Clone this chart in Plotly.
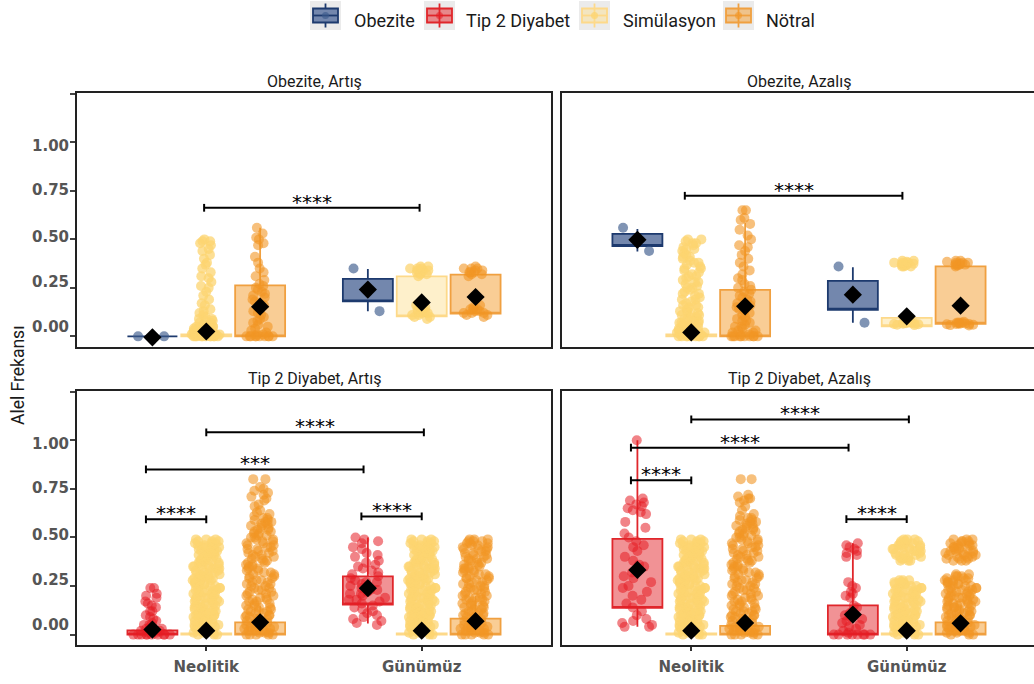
import plotly.graph_objects as go

FIG_W, FIG_H = 1034, 684


def fx(px):
    return px / FIG_W


def fy(py):
    return 1 - py / FIG_H


CATEGORIES = ["Neolitik", "Günümüz"]
PANEL_TITLES = ["Obezite, Artış", "Obezite, Azalış", "Tip 2 Diyabet, Artış", "Tip 2 Diyabet, Azalış"]
PANEL_TRAIT = ["Obezite", "Obezite", "Tip 2 Diyabet", "Tip 2 Diyabet"]
GROUP_NAMES = ["trait", "Simülasyon", "Nötral"]
GROUP_OFFSETS = [-0.25, 0.0, 0.25]
BOX_WIDTH = 0.232

# ---- box statistics: rows = (trait, Simülasyon, Nötral), cols = (Neolitik, Günümüz)
STATS_OA = dict(  # Obezite, Artış
    lower=[[0.0, 0.129], [0.0, 0.103], [0.0, 0.117]],
    q1=[[0.0, 0.18], [0.0, 0.103], [0.0, 0.117]],
    q3=[[0.0, 0.296], [0.01, 0.309], [0.263, 0.318]],
    upper=[[0.0, 0.347], [0.01, 0.309], [0.56, 0.318]],
    mean=[[-0.005, 0.241], [0.025, 0.175], [0.153, 0.203]],
)
STATS_OZ = dict(  # Obezite, Azalış
    lower=[[0.438, 0.07], [0.0, 0.052], [0.0, 0.065]],
    q1=[[0.466, 0.137], [0.0, 0.052], [0.0, 0.065]],
    q3=[[0.528, 0.286], [0.01, 0.095], [0.24, 0.361]],
    upper=[[0.553, 0.356], [0.01, 0.095], [0.585, 0.361]],
    mean=[[0.498, 0.215], [0.02, 0.103], [0.155, 0.158]],
)
STATS_TA = dict(  # Tip 2 Diyabet, Artış
    lower=[[0.0, 0.057], [0.0, 0.0], [0.0, 0.0]],
    q1=[[0.0, 0.155], [0.0, 0.0], [0.0, 0.0]],
    q3=[[0.022, 0.30], [0.006, 0.006], [0.063, 0.082]],
    upper=[[0.05, 0.50], [0.006, 0.006], [0.15, 0.2]],
    mean=[[0.026, 0.239], [0.02, 0.02], [0.063, 0.069]],
)
STATS_TZ = dict(  # Tip 2 Diyabet, Azalış
    lower=[[0.04, 0.0], [0.0, 0.0], [0.0, 0.0]],
    q1=[[0.138, 0.0], [0.0, 0.0], [0.0, 0.0]],
    q3=[[0.493, 0.15], [0.006, 0.006], [0.045, 0.063]],
    upper=[[1.0, 0.47], [0.006, 0.006], [0.1, 0.15]],
    mean=[[0.333, 0.103], [0.02, 0.02], [0.06, 0.058]],
)

# ---- individual (jittered) points
OA_TRAIT_NEO = [0.0, 0.0]
OA_TRAIT_GUN = [0.35, 0.13]
OA_SIM_NEO = [0.50, 0.49, 0.49, 0.48, 0.47, 0.45, 0.44, 0.42, 0.40, 0.38, 0.37, 0.35, 0.33, 0.31,
              0.30, 0.28, 0.26, 0.25, 0.23, 0.21, 0.19, 0.17, 0.16, 0.14, 0.13, 0.12, 0.11, 0.10,
              0.09, 0.09, 0.08, 0.08, 0.07, 0.07, 0.06, 0.06, 0.05, 0.05, 0.05, 0.04, 0.04, 0.04,
              0.03, 0.03, 0.03, 0.03, 0.02, 0.02, 0.02, 0.02, 0.01, 0.01, 0.01, 0.01, 0.01, 0.00,
              0.00, 0.00, 0.00, 0.00, 0.00, 0.00, 0.00, 0.00, 0.00, 0.00, 0.01, 0.02, 0.03]
OA_SIM_GUN = [0.36, 0.36, 0.35, 0.35, 0.34, 0.34, 0.34, 0.33, 0.33, 0.32, 0.32, 0.31, 0.35, 0.33,
              0.16, 0.15, 0.15, 0.14, 0.13, 0.13, 0.12, 0.12, 0.11, 0.10, 0.10, 0.09, 0.14, 0.11]
OA_NOT_NEO = [0.56, 0.53, 0.51, 0.50, 0.48, 0.47, 0.41, 0.38, 0.35, 0.33, 0.31, 0.29, 0.27, 0.26,
              0.25, 0.24, 0.23, 0.22, 0.21, 0.20, 0.19, 0.18, 0.17, 0.16, 0.15, 0.14, 0.13, 0.12,
              0.11, 0.10, 0.09, 0.08, 0.07, 0.06, 0.05, 0.04, 0.03, 0.02, 0.01, 0.01, 0.00, 0.00,
              0.00, 0.00, 0.00, 0.00, 0.00, 0.00, 0.00, 0.00]
OA_NOT_GUN = [0.36, 0.35, 0.35, 0.34, 0.34, 0.33, 0.33, 0.32, 0.32, 0.31, 0.35, 0.33,
              0.16, 0.15, 0.14, 0.14, 0.13, 0.13, 0.12, 0.12, 0.11, 0.11, 0.10, 0.14, 0.12]

OZ_TRAIT_NEO = [0.56, 0.44]
OZ_TRAIT_GUN = [0.36, 0.07]
OZ_SIM_NEO = [0.50, 0.50, 0.49, 0.48, 0.47, 0.46, 0.45, 0.44, 0.43, 0.42, 0.41, 0.40, 0.39, 0.38,
              0.37, 0.36, 0.35, 0.34, 0.33, 0.32, 0.31, 0.30, 0.29, 0.28, 0.27, 0.26, 0.25, 0.24,
              0.23, 0.22, 0.21, 0.20, 0.19, 0.18, 0.17, 0.16, 0.15, 0.15, 0.14, 0.13, 0.12, 0.12,
              0.11, 0.10, 0.10, 0.09, 0.08, 0.08, 0.07, 0.07, 0.06, 0.06, 0.05, 0.05, 0.04, 0.04,
              0.03, 0.03, 0.03, 0.02, 0.02, 0.02, 0.01, 0.01, 0.01, 0.00, 0.00, 0.00, 0.00, 0.00,
              0.00, 0.00, 0.48, 0.45, 0.41, 0.38, 0.35, 0.31, 0.28, 0.25, 0.22, 0.19, 0.16, 0.13,
              0.11, 0.09, 0.07, 0.05, 0.04, 0.03, 0.02, 0.01, 0.00, 0.00]
OZ_SIM_GUN = [0.39, 0.39, 0.38, 0.38, 0.38, 0.37, 0.37, 0.37, 0.36, 0.36, 0.36, 0.385, 0.375, 0.365,
              0.077, 0.075, 0.072, 0.07, 0.068, 0.066, 0.064, 0.062, 0.06, 0.058, 0.071, 0.065, 0.074]
OZ_NOT_NEO = [0.65, 0.65, 0.61, 0.60, 0.58, 0.55, 0.52, 0.50, 0.47, 0.46, 0.44, 0.42, 0.40, 0.38,
              0.36, 0.34, 0.32, 0.30, 0.29, 0.27, 0.26, 0.25, 0.24, 0.23, 0.22, 0.21, 0.20, 0.19,
              0.18, 0.17, 0.16, 0.15, 0.14, 0.13, 0.12, 0.11, 0.10, 0.09, 0.08, 0.07, 0.06, 0.05,
              0.04, 0.03, 0.02, 0.01, 0.00, 0.00, 0.00, 0.00, 0.00, 0.00, 0.00, 0.00, 0.00, 0.00,
              0.01, 0.02, 0.03, 0.05, 0.08]
OZ_NOT_GUN = [0.39, 0.39, 0.38, 0.38, 0.38, 0.37, 0.37, 0.37, 0.37, 0.36, 0.385, 0.375, 0.365,
              0.075, 0.072, 0.07, 0.068, 0.066, 0.065, 0.064, 0.062, 0.06, 0.058, 0.056, 0.07, 0.063]

TA_TRAIT_NEO = [0.24, 0.24, 0.21, 0.20, 0.19, 0.17, 0.16, 0.15, 0.14, 0.12, 0.12, 0.10, 0.09, 0.08,
                0.07, 0.06, 0.05, 0.05, 0.04, 0.03, 0.03, 0.02, 0.02, 0.01, 0.01, 0.00, 0.00, 0.00,
                0.00, 0.00, 0.00, 0.00, 0.00, 0.00, 0.00]
TA_TRAIT_GUN = [0.50, 0.49, 0.48, 0.47, 0.45, 0.44, 0.42, 0.41, 0.40, 0.38, 0.37, 0.36, 0.35, 0.34,
                0.33, 0.32, 0.31, 0.30, 0.29, 0.28, 0.27, 0.27, 0.26, 0.25, 0.25, 0.24, 0.23, 0.23,
                0.22, 0.21, 0.21, 0.20, 0.19, 0.18, 0.18, 0.17, 0.16, 0.15, 0.14, 0.13, 0.12, 0.11,
                0.10, 0.09, 0.08, 0.07, 0.06, 0.05]
SIM_COLUMN = [
    0.00, 0.00, 0.00, 0.01, 0.01, 0.01, 0.02, 0.02, 0.02, 0.03, 0.03, 0.03, 0.04, 0.04, 0.04,
    0.05, 0.05, 0.05, 0.06, 0.06, 0.06, 0.07, 0.07, 0.07, 0.08, 0.08, 0.08, 0.09, 0.09, 0.09,
    0.10, 0.10, 0.10, 0.11, 0.11, 0.11, 0.12, 0.12, 0.12, 0.13, 0.13, 0.13, 0.14, 0.14, 0.14,
    0.15, 0.15, 0.15, 0.16, 0.16, 0.16, 0.17, 0.17, 0.17, 0.18, 0.18, 0.18, 0.19, 0.19, 0.19,
    0.20, 0.20, 0.20, 0.21, 0.21, 0.21, 0.22, 0.22, 0.22, 0.23, 0.23, 0.23, 0.24, 0.24, 0.24,
    0.25, 0.25, 0.25, 0.26, 0.26, 0.26, 0.27, 0.27, 0.27, 0.28, 0.28, 0.28, 0.29, 0.29, 0.29,
    0.30, 0.30, 0.30, 0.31, 0.31, 0.31, 0.32, 0.32, 0.32, 0.33, 0.33, 0.33, 0.34, 0.34, 0.34,
    0.35, 0.35, 0.35, 0.36, 0.36, 0.36, 0.37, 0.37, 0.37, 0.38, 0.38, 0.38, 0.39, 0.39, 0.39,
    0.40, 0.40, 0.40, 0.41, 0.41, 0.41, 0.42, 0.42, 0.42, 0.43, 0.43, 0.43, 0.44, 0.44, 0.44,
    0.45, 0.45, 0.45, 0.46, 0.46, 0.46, 0.47, 0.47, 0.47, 0.48, 0.48, 0.48, 0.49, 0.49, 0.49]
TA_NOT_NEO = [
    0.80, 0.80, 0.76, 0.75, 0.74, 0.73, 0.72, 0.71, 0.70, 0.69, 0.67, 0.66, 0.64, 0.63, 0.62,
    0.61, 0.60, 0.60, 0.59, 0.59, 0.58, 0.58, 0.57, 0.57, 0.56, 0.56, 0.55, 0.55, 0.54, 0.54,
    0.53, 0.53, 0.52, 0.52, 0.51, 0.51, 0.50, 0.50, 0.49, 0.49, 0.48, 0.48, 0.47, 0.47, 0.46,
    0.46, 0.45, 0.45, 0.44, 0.44, 0.43, 0.43, 0.42, 0.42, 0.41, 0.41, 0.40, 0.40, 0.39, 0.39,
    0.38, 0.38, 0.37, 0.37, 0.36, 0.36, 0.35, 0.35, 0.34, 0.34, 0.33, 0.33, 0.32, 0.32, 0.31,
    0.31, 0.30, 0.30, 0.29, 0.29, 0.28, 0.28, 0.27, 0.27, 0.26, 0.26, 0.25, 0.25, 0.24, 0.24,
    0.23, 0.23, 0.22, 0.22, 0.21, 0.21, 0.20, 0.20, 0.19, 0.19, 0.18, 0.18, 0.17, 0.17, 0.16,
    0.16, 0.15, 0.15, 0.14, 0.14, 0.13, 0.13, 0.12, 0.12, 0.11, 0.11, 0.10, 0.10, 0.09, 0.09,
    0.08, 0.08, 0.07, 0.07, 0.06, 0.06, 0.05, 0.05, 0.04, 0.04, 0.03, 0.03, 0.02, 0.02, 0.01,
    0.01, 0.00, 0.00, 0.00, 0.00, 0.00, 0.01, 0.02, 0.03, 0.04, 0.05, 0.06, 0.08, 0.10, 0.12]
TA_NOT_GUN = [
    0.49, 0.49, 0.49, 0.48, 0.48, 0.47, 0.47, 0.46, 0.46, 0.45, 0.45, 0.44, 0.44, 0.43, 0.43,
    0.42, 0.42, 0.41, 0.41, 0.40, 0.40, 0.39, 0.39, 0.38, 0.38, 0.37, 0.37, 0.36, 0.36, 0.35,
    0.35, 0.34, 0.34, 0.33, 0.33, 0.32, 0.32, 0.31, 0.31, 0.30, 0.30, 0.29, 0.29, 0.28, 0.28,
    0.27, 0.27, 0.26, 0.26, 0.25, 0.25, 0.24, 0.24, 0.23, 0.23, 0.22, 0.22, 0.21, 0.21, 0.20,
    0.20, 0.19, 0.19, 0.18, 0.18, 0.17, 0.17, 0.16, 0.16, 0.15, 0.15, 0.14, 0.14, 0.13, 0.13,
    0.12, 0.12, 0.11, 0.11, 0.10, 0.10, 0.09, 0.09, 0.08, 0.08, 0.07, 0.07, 0.06, 0.06, 0.05,
    0.05, 0.04, 0.04, 0.03, 0.03, 0.02, 0.02, 0.01, 0.01, 0.00, 0.00, 0.00, 0.00, 0.00, 0.01,
    0.02, 0.03, 0.04, 0.06, 0.08, 0.11, 0.15, 0.19, 0.24, 0.29, 0.34, 0.39, 0.44, 0.47, 0.48]

TZ_TRAIT_NEO = [1.00, 0.70, 0.69, 0.68, 0.67, 0.66, 0.65, 0.64, 0.63, 0.62, 0.58, 0.55, 0.52, 0.50,
                0.48, 0.46, 0.45, 0.43, 0.40, 0.38, 0.36, 0.35, 0.33, 0.32, 0.30, 0.29, 0.27, 0.25,
                0.24, 0.22, 0.20, 0.18, 0.16, 0.14, 0.12, 0.10, 0.08, 0.07, 0.06, 0.05, 0.04, 0.04]
TZ_TRAIT_GUN = [0.47, 0.46, 0.45, 0.44, 0.43, 0.42, 0.41, 0.40, 0.27, 0.25, 0.24, 0.22, 0.21, 0.20,
                0.19, 0.15, 0.14, 0.12, 0.11, 0.10, 0.09, 0.08, 0.07, 0.06, 0.05, 0.04, 0.03, 0.02,
                0.01, 0.00, 0.00, 0.00, 0.00, 0.00, 0.00, 0.00, 0.00]
TZ_SIM_GUN = [
    0.49, 0.49, 0.49, 0.48, 0.48, 0.48, 0.47, 0.47, 0.47, 0.46, 0.46, 0.46, 0.45, 0.45, 0.45,
    0.44, 0.44, 0.44, 0.43, 0.43, 0.43, 0.42, 0.42, 0.42, 0.41, 0.41, 0.41, 0.40, 0.40, 0.40,
    0.39, 0.39, 0.39, 0.38, 0.38, 0.38,
    0.28, 0.28, 0.28, 0.27, 0.27, 0.27, 0.26, 0.26, 0.26, 0.25, 0.25, 0.25, 0.24, 0.24, 0.24,
    0.23, 0.23, 0.23, 0.22, 0.22, 0.22, 0.21, 0.21, 0.21, 0.20, 0.20, 0.20, 0.19, 0.19, 0.19,
    0.18, 0.18, 0.18, 0.17, 0.17, 0.17, 0.16, 0.16, 0.16, 0.15, 0.15, 0.15, 0.14, 0.14, 0.14,
    0.13, 0.13, 0.13, 0.12, 0.12, 0.12, 0.11, 0.11, 0.11, 0.10, 0.10, 0.10, 0.09, 0.09, 0.09,
    0.08, 0.08, 0.08, 0.07, 0.07, 0.07, 0.06, 0.06, 0.06, 0.05, 0.05, 0.05, 0.04, 0.04, 0.04,
    0.03, 0.03, 0.03, 0.02, 0.02, 0.02, 0.01, 0.01, 0.01, 0.00, 0.00, 0.00]
TZ_NOT_NEO = [
    0.80, 0.80, 0.72, 0.71, 0.70, 0.70, 0.69, 0.68, 0.66, 0.64, 0.62, 0.61,
    0.60, 0.60, 0.59, 0.59, 0.58, 0.58, 0.57, 0.57, 0.56, 0.56, 0.55, 0.55, 0.54, 0.54,
    0.53, 0.53, 0.52, 0.52, 0.51, 0.51, 0.50, 0.50, 0.49, 0.49, 0.48, 0.48, 0.47, 0.47, 0.46,
    0.46, 0.45, 0.45, 0.44, 0.44, 0.43, 0.43, 0.42, 0.42, 0.41, 0.41, 0.40, 0.40, 0.39, 0.39,
    0.38, 0.38, 0.37, 0.37, 0.36, 0.36, 0.35, 0.35, 0.34, 0.34, 0.33, 0.33, 0.32, 0.32, 0.31,
    0.31, 0.30, 0.30, 0.29, 0.29, 0.28, 0.28, 0.27, 0.27, 0.26, 0.26, 0.25, 0.25, 0.24, 0.24,
    0.23, 0.23, 0.22, 0.22, 0.21, 0.21, 0.20, 0.20, 0.19, 0.19, 0.18, 0.18, 0.17, 0.17, 0.16,
    0.16, 0.15, 0.15, 0.14, 0.14, 0.13, 0.13, 0.12, 0.12, 0.11, 0.11, 0.10, 0.10, 0.09, 0.09,
    0.08, 0.08, 0.07, 0.07, 0.06, 0.06, 0.05, 0.05, 0.04, 0.04, 0.03, 0.03, 0.02, 0.02, 0.01,
    0.01, 0.00, 0.00, 0.00, 0.00, 0.00, 0.01, 0.02, 0.03, 0.04, 0.05, 0.06, 0.08, 0.10, 0.12]
TZ_NOT_GUN = [
    0.49, 0.49, 0.49, 0.48, 0.48, 0.48, 0.47, 0.47, 0.47, 0.46, 0.46, 0.46, 0.45, 0.45, 0.45,
    0.44, 0.44, 0.44, 0.43, 0.43, 0.43, 0.42, 0.42, 0.42, 0.41, 0.41, 0.41, 0.40, 0.40, 0.40,
    0.39, 0.39, 0.39, 0.38, 0.38, 0.38,
    0.31, 0.31, 0.30, 0.30, 0.30, 0.29, 0.29, 0.29, 0.28, 0.28, 0.28, 0.27, 0.27, 0.27, 0.26,
    0.26, 0.26, 0.25, 0.25, 0.25, 0.24, 0.24, 0.24, 0.23, 0.23, 0.23, 0.22, 0.22, 0.22, 0.21,
    0.21, 0.21, 0.20, 0.20, 0.20, 0.19, 0.19, 0.19, 0.18, 0.18, 0.18, 0.17, 0.17, 0.17, 0.16,
    0.16, 0.16, 0.15, 0.15, 0.15, 0.14, 0.14, 0.14, 0.13, 0.13, 0.13, 0.12, 0.12, 0.12, 0.11,
    0.11, 0.11, 0.10, 0.10, 0.10, 0.09, 0.09, 0.09, 0.08, 0.08, 0.08, 0.07, 0.07, 0.07, 0.06,
    0.06, 0.06, 0.05, 0.05, 0.05, 0.04, 0.04, 0.04, 0.03, 0.03, 0.03, 0.02, 0.02, 0.02, 0.01,
    0.01, 0.01, 0.00, 0.00, 0.00]

PANEL_STATS = [STATS_OA, STATS_OZ, STATS_TA, STATS_TZ]
PANEL_POINTS = [
    [[OA_TRAIT_NEO, OA_TRAIT_GUN], [OA_SIM_NEO, OA_SIM_GUN], [OA_NOT_NEO, OA_NOT_GUN]],
    [[OZ_TRAIT_NEO, OZ_TRAIT_GUN], [OZ_SIM_NEO, OZ_SIM_GUN], [OZ_NOT_NEO, OZ_NOT_GUN]],
    [[TA_TRAIT_NEO, TA_TRAIT_GUN], [SIM_COLUMN, SIM_COLUMN], [TA_NOT_NEO, TA_NOT_GUN]],
    [[TZ_TRAIT_NEO, TZ_TRAIT_GUN], [SIM_COLUMN, TZ_SIM_GUN], [TZ_NOT_NEO, TZ_NOT_GUN]],
]

# significance brackets: (panel, x_from, x_to, y, label)
BRACKETS = [
    (0, 0.99, 1.99, 0.663, "****"),
    (1, 0.97, 1.98, 0.725, "****"),
    (2, 1.00, 2.01, 1.041, "****"),
    (2, 0.72, 1.73, 0.85, "***"),
    (2, 0.72, 1.00, 0.593, "****"),
    (2, 1.72, 2.00, 0.608, "****"),
    (3, 1.00, 2.01, 1.107, "****"),
    (3, 0.72, 1.73, 0.962, "****"),
    (3, 0.72, 1.00, 0.794, "****"),
    (3, 1.72, 2.00, 0.594, "****"),
]

YTICK_VALUES = [0.0, 0.25, 0.5, 0.75, 1.0, 1.25]
YTICK_TEXT = ["0.00", "0.25", "0.50", "0.75", "1.00"]
YLABEL_POS = [0.05, 0.281, 0.513, 0.753, 0.98]  # labels sit slightly off their ticks in the reference

COLORS = {
    "Obezite": dict(line="#1d3a6e", fill="#7387ad", point="rgba(60,90,140,0.65)", jitter=0.9),
    "Tip 2 Diyabet": dict(line="#e0262b", fill="rgba(228,38,43,0.5)", point="rgba(230,30,36,0.55)", jitter=0.9),
    "Simülasyon": dict(line="#fdd98a", fill="rgba(253,222,140,0.45)", point="rgba(252,212,112,0.75)", jitter=0.6),
    "Nötral": dict(line="#f0a040", fill="rgba(243,156,44,0.5)", point="rgba(242,150,36,0.6)", jitter=0.65),
}
LEGEND_ORDER = ["Obezite", "Tip 2 Diyabet", "Simülasyon", "Nötral"]

# ---- layout geometry (pixels)
PANEL_X = [(77, 551), (562, 1036), (77, 551), (562, 1036)]
PANEL_Y = [(93, 347), (93, 347), (390.7, 645.3), (390.7, 645.3)]
PX_PER_UNIT = 215.45
Y_RANGE = [-0.055, 1.255]
LEGEND_KEY_LEFT = [310, 424, 579, 723]
LEGEND_TEXT_LEFT = [352, 464, 621, 764]
LEGEND_KEY_W, LEGEND_KEY_TOP, LEGEND_KEY_BOTTOM = 31, 1, 30
LEGEND_TEXT_Y = 21

fig = go.Figure()

for p in range(4):
    ax = "" if p == 0 else str(p + 1)
    xref, yref = "x" + ax, "y" + ax
    stats = PANEL_STATS[p]
    for g in range(3):
        name = PANEL_TRAIT[p] if g == 0 else GROUP_NAMES[g]
        col = COLORS[name]
        for c in range(2):
            pos = c + 1 + GROUP_OFFSETS[g]
            fig.add_trace(go.Box(
                x=[pos], q1=[stats["q1"][g][c]], median=[stats["q1"][g][c]],
                q3=[stats["q3"][g][c]], lowerfence=[stats["lower"][g][c]],
                upperfence=[stats["upper"][g][c]], whiskerwidth=0,
                width=BOX_WIDTH, fillcolor=col["fill"], line=dict(color=col["line"], width=1.8),
                boxpoints=False, name=name, showlegend=False,
                xaxis=xref, yaxis=yref, hoverinfo="skip"))
    for g in range(3):
        name = PANEL_TRAIT[p] if g == 0 else GROUP_NAMES[g]
        col = COLORS[name]
        for c in range(2):
            pos = c + 1 + GROUP_OFFSETS[g]
            vals = PANEL_POINTS[p][g][c]
            fig.add_trace(go.Box(
                x=[pos] * len(vals), y=vals, boxpoints="all", jitter=col["jitter"], pointpos=0,
                width=BOX_WIDTH, fillcolor="rgba(0,0,0,0)", whiskerwidth=0,
                line=dict(color="rgba(0,0,0,0)", width=0),
                marker=dict(color=col["point"], size=10), name=name,
                showlegend=False, xaxis=xref, yaxis=yref, hoverinfo="skip"))
    mx, my = [], []
    for g in range(3):
        for c in range(2):
            mx.append(c + 1 + GROUP_OFFSETS[g])
            my.append(stats["mean"][g][c])
    fig.add_trace(go.Scatter(x=mx, y=my, mode="markers",
                             marker=dict(symbol="diamond", size=14, color="black"),
                             showlegend=False, xaxis=xref, yaxis=yref, hoverinfo="skip"))

layout = dict(
    template="none",
    width=FIG_W, height=FIG_H, margin=dict(l=0, r=0, t=0, b=0, pad=0, autoexpand=False),
    paper_bgcolor="white", plot_bgcolor="white",
    font=dict(family="Roboto, Arial, sans-serif", color="#1a1a1a"),
    showlegend=False, boxmode="overlay",
)

annotations = []
shapes = []
for p in range(4):
    ax = "" if p == 0 else str(p + 1)
    x0, x1 = PANEL_X[p]
    y0, y1 = PANEL_Y[p]
    right_px = min(x1, FIG_W)
    width_units = (right_px - x0) / PX_PER_UNIT
    is_bottom = p >= 2
    is_left = p % 2 == 0
    layout["xaxis" + ax] = dict(
        domain=[fx(x0), fx(right_px)], anchor="y" + ax, range=[0.4, 0.4 + width_units],
        automargin=False, showgrid=False, zeroline=False, showline=True, mirror=True,
        linecolor="#222", linewidth=2, tickmode="array", tickvals=[1, 2],
        ticktext=CATEGORIES if is_bottom else ["", ""],
        showticklabels=is_bottom, ticks="outside" if is_bottom else "",
        ticklen=4, tickcolor="#333", tickwidth=1.5, ticklabelstandoff=3,
        tickfont=dict(family="DejaVu Sans", size=15, color="#555555", weight="bold"),
    )
    layout["yaxis" + ax] = dict(
        domain=[fy(y1), fy(y0)], anchor="x" + ax, range=Y_RANGE, automargin=False,
        showgrid=False, zeroline=False, showline=True, mirror=True, linecolor="#222",
        linewidth=2, tickmode="array", tickvals=YTICK_VALUES, showticklabels=False,
        ticks="outside" if is_left else "", ticklen=5, tickcolor="#444", tickwidth=1.5,
    )
    annotations.append(dict(
        text=PANEL_TITLES[p], xref="paper", yref="paper", x=fx((x0 + x1) / 2),
        y=fy(y0 - 12), xanchor="center", yanchor="middle", showarrow=False,
        font=dict(size=16, family="Roboto", color="#1a1a1a")))
    if is_left:
        for val, txt in zip(YLABEL_POS, YTICK_TEXT):
            annotations.append(dict(
                text=txt, xref="paper", yref="y" + ax, x=fx(71), y=val, xanchor="right",
                yanchor="middle", showarrow=False,
                font=dict(size=15, family="DejaVu Sans", color="#555555", weight="bold")))

TICK_H = 0.02
for (p, xa, xb, yv, lab) in BRACKETS:
    ax = "" if p == 0 else str(p + 1)
    xr, yr = "x" + ax, "y" + ax
    line = dict(color="black", width=2)
    shapes.append(dict(type="line", xref=xr, yref=yr, x0=xa, x1=xb, y0=yv, y1=yv, line=line))
    shapes.append(dict(type="line", xref=xr, yref=yr, x0=xa, x1=xa, y0=yv - TICK_H, y1=yv + TICK_H, line=line))
    shapes.append(dict(type="line", xref=xr, yref=yr, x0=xb, x1=xb, y0=yv - TICK_H, y1=yv + TICK_H, line=line))
    annotations.append(dict(
        text=lab, xref=xr, yref=yr, x=(xa + xb) / 2, y=yv, xanchor="center", yanchor="middle",
        yshift=6, showarrow=False, font=dict(size=20, family="DejaVu Sans", color="#000000")))

annotations.append(dict(
    text="Alel Frekansı", xref="paper", yref="paper", x=fx(18), y=fy(376),
    xanchor="center", yanchor="middle", textangle=-90, showarrow=False,
    font=dict(size=17.5, family="Roboto", color="#1a1a1a")))

# ---- legend (ggplot-style keys on grey background)
for name, kx, tx in zip(LEGEND_ORDER, LEGEND_KEY_LEFT, LEGEND_TEXT_LEFT):
    col = COLORS[name]
    cx = kx + LEGEND_KEY_W / 2
    cy = (LEGEND_KEY_TOP + LEGEND_KEY_BOTTOM) / 2
    P = dict(xref="paper", yref="paper")
    shapes.append(dict(type="rect", x0=fx(kx), x1=fx(kx + LEGEND_KEY_W), y0=fy(LEGEND_KEY_BOTTOM),
                       y1=fy(LEGEND_KEY_TOP), fillcolor="#ebebeb", line=dict(width=0), **P))
    shapes.append(dict(type="line", x0=fx(cx), x1=fx(cx), y0=fy(cy + 12), y1=fy(cy - 12),
                       line=dict(color=col["line"], width=1.8), **P))
    shapes.append(dict(type="rect", x0=fx(kx + 3), x1=fx(kx + LEGEND_KEY_W - 3), y0=fy(cy + 7),
                       y1=fy(cy - 7), fillcolor=col["fill"], line=dict(color=col["line"], width=1.8), **P))
    shapes.append(dict(type="line", x0=fx(kx + 3), x1=fx(kx + LEGEND_KEY_W - 3), y0=fy(cy),
                       y1=fy(cy), line=dict(color=col["line"], width=1.8), **P))
    shapes.append(dict(type="circle", x0=fx(cx - 3.5), x1=fx(cx + 3.5), y0=fy(cy + 3.5),
                       y1=fy(cy - 3.5), fillcolor=col["point"], line=dict(width=0), **P))
    annotations.append(dict(
        text=name, xref="paper", yref="paper", x=fx(tx), y=fy(LEGEND_TEXT_Y), xanchor="left",
        yanchor="middle", showarrow=False, font=dict(size=18, family="Roboto", color="#1a1a1a")))

layout["annotations"] = annotations
layout["shapes"] = shapes
fig.update_layout(**layout)
fig.write_html(
    "out.html",
    config={"displayModeBar": False},
    post_script="document.body.style.margin='0';document.documentElement.style.overflow='hidden';",
)
